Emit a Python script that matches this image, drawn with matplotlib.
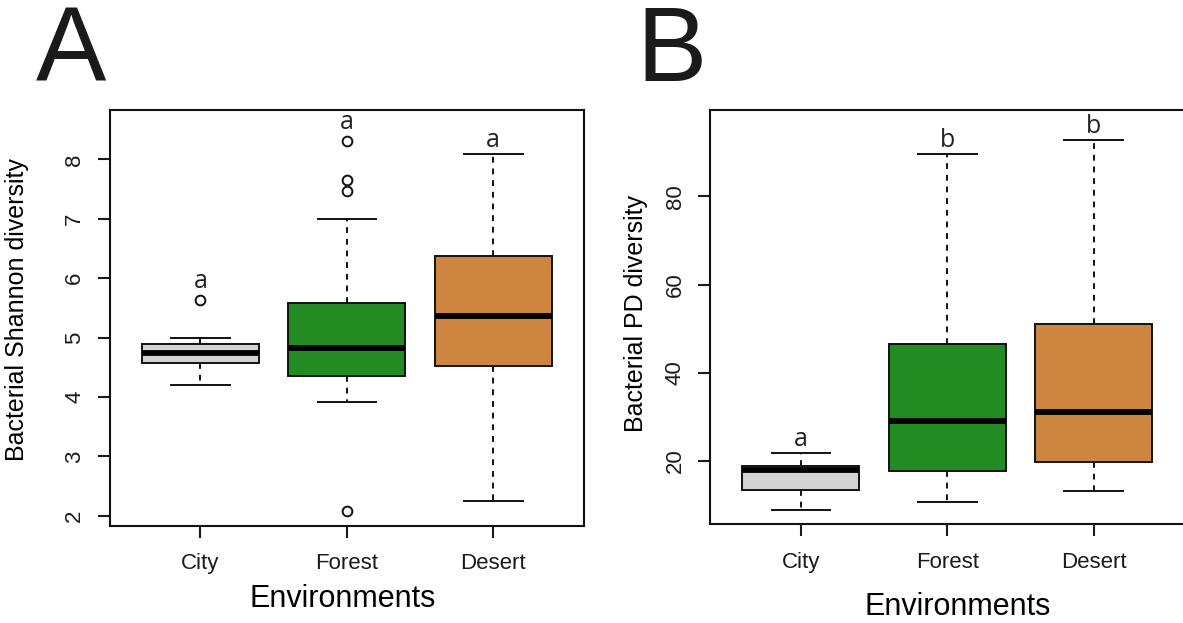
import matplotlib
matplotlib.use("Agg")
import matplotlib.pyplot as plt

plt.rcParams.update({
    "font.family": "Liberation Sans",
    "axes.linewidth": 1.5,
    "xtick.major.width": 1.5,
    "ytick.major.width": 1.5,
    "text.color": "#1a1a1a",
})

environments = ["City", "Forest", "Desert"]
box_colors = ["#D3D3D3", "#228B22", "#CD853F"]  # lightgray, forestgreen, peru

# Shannon diversity: five-number summaries and outliers
shannon_q1 = [4.57, 4.36, 4.53]
shannon_med = [4.74, 4.82, 5.37]
shannon_q3 = [4.90, 5.59, 6.37]
shannon_lo = [4.21, 3.92, 2.25]
shannon_hi = [5.00, 6.99, 8.09]
shannon_out = [[5.64], [8.31, 7.66, 7.47, 2.08], []]
shannon_letters = ["a", "a", "a"]

# Faith's PD diversity
pd_q1 = [13.5, 17.8, 19.7]
pd_med = [17.9, 29.1, 31.1]
pd_q3 = [18.9, 46.6, 51.1]
pd_lo = [8.9, 10.6, 13.2]
pd_hi = [21.9, 89.6, 92.9]
pd_out = [[], [], []]
pd_letters = ["a", "b", "b"]


def box_stats(q1, med, q3, lo, hi, out):
    return [dict(q1=a, med=b, q3=c, whislo=d, whishi=e, fliers=f)
            for a, b, c, d, e, f in zip(q1, med, q3, lo, hi, out)]


def draw_panel(ax, stats, letters, ylabel, yticks, ylim):
    pos = [1, 2, 3]
    bp = ax.bxp(stats, positions=pos, widths=0.8, capwidths=0.4,
                patch_artist=True, showfliers=True,
                boxprops=dict(linewidth=1.4, edgecolor="#111111"),
                medianprops=dict(color="black", linewidth=4.2, solid_capstyle="butt"),
                whiskerprops=dict(color="#111111", linewidth=1.4, linestyle=(0, (3, 3))),
                capprops=dict(color="#111111", linewidth=1.4),
                flierprops=dict(marker="o", markerfacecolor="none",
                                markeredgecolor="#111111", markersize=7,
                                markeredgewidth=1.4))
    for patch, c in zip(bp["boxes"], box_colors):
        patch.set_facecolor(c)

    # significance letters just above the highest mark of each group
    for x, s, lab in zip(pos, stats, letters):
        fl = list(s["fliers"])
        top_fl = max([v for v in fl if v > s["whishi"]], default=None)
        if top_fl is not None:
            y, off = top_fl, 12
        else:
            y, off = s["whishi"], 7
        ax.annotate(lab, (x, y), xytext=(0, off), textcoords="offset pixels",
                    ha="center", va="baseline", fontsize=18,
                    family="Open Sans", color="#222222")

    ax.set_xlim(0.38, 3.62)
    ax.set_ylim(*ylim)
    ax.set_xticks(pos)
    ax.set_xticklabels(environments)
    ax.set_yticks(yticks)
    ax.set_yticklabels([str(t) for t in yticks], rotation=90, va="center")
    ax.tick_params(axis="both", direction="out", length=8.6, labelsize=16,
                   colors="#1a1a1a")
    ax.tick_params(axis="x", pad=11)
    ax.tick_params(axis="y", pad=9)
    for sp in ax.spines.values():
        sp.set_color("#111111")
    ax.set_ylabel(ylabel, fontsize=18, va="center")
    ax.set_xlabel("Environments", fontsize=22, va="center")


fig = plt.figure(figsize=(11.83, 6.23), dpi=100)

axA = fig.add_axes([0.0927, 0.1557, 0.401, 0.6677])
draw_panel(axA, box_stats(shannon_q1, shannon_med, shannon_q3, shannon_lo,
                          shannon_hi, shannon_out),
           shannon_letters, "Bacterial Shannon diversity",
           [2, 3, 4, 5, 6, 7, 8], (1.83, 8.83))
axA.yaxis.set_label_coords(-0.195, 0.52)
axA.xaxis.set_label_coords(0.492, -0.175)

axB = fig.add_axes([0.6002, 0.1584, 0.401, 0.665])
draw_panel(axB, box_stats(pd_q1, pd_med, pd_q3, pd_lo, pd_hi, pd_out),
           pd_letters, "Bacterial PD diversity",
           [20, 40, 60, 80], (5.65, 99.6))
axB.yaxis.set_label_coords(-0.156, 0.51)
axB.xaxis.set_label_coords(0.523, -0.2)

fig.text(0.0304, 0.87, "A", fontsize=76, ha="left", va="baseline", color="#1a1a1a")
fig.text(0.5376, 0.87, "B", fontsize=76, ha="left", va="baseline", color="#1a1a1a")

fig.savefig("out.png", dpi=100)
